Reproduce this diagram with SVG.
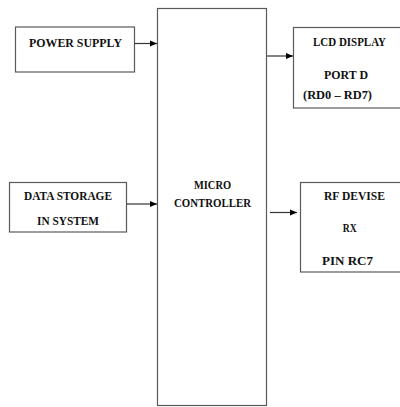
<svg xmlns="http://www.w3.org/2000/svg" width="400" height="407" viewBox="0 0 400 407">
<style>
.box{fill:#fff;stroke:#5a5a5a;stroke-width:1.2}
.t{font-family:"Liberation Serif","Times New Roman",serif;font-weight:bold;font-size:13px;fill:#111;text-anchor:middle}
.c{stroke:#333;stroke-width:1.2;fill:none}
</style>
<defs>
<marker id="ah" markerWidth="8" markerHeight="8" refX="7" refY="4" orient="auto" markerUnits="userSpaceOnUse">
<path d="M0,1 L7,4 L0,7 Z" fill="#000"/>
</marker>
</defs>
<rect width="400" height="407" fill="#fff"/>
<g id="power-supply">
<rect class="box" x="15.5" y="27" width="119" height="45"/>
<text class="t" x="75.5" y="46.5" textLength="93" lengthAdjust="spacingAndGlyphs">POWER SUPPLY</text>
</g>
<g id="data-storage">
<rect class="box" x="9.5" y="182.5" width="117" height="49.5"/>
<text class="t" x="68" y="200" textLength="88" lengthAdjust="spacingAndGlyphs">DATA STORAGE</text>
<text class="t" x="68" y="225" textLength="62" lengthAdjust="spacingAndGlyphs">IN SYSTEM</text>
</g>
<g id="micro-controller">
<rect class="box" x="157.5" y="8.5" width="109" height="397"/>
<text class="t" x="212.5" y="189" textLength="37" lengthAdjust="spacingAndGlyphs">MICRO</text>
<text class="t" x="212.5" y="207" textLength="77" lengthAdjust="spacingAndGlyphs">CONTROLLER</text>
</g>
<g id="lcd-display">
<rect class="box" x="293.5" y="27.5" width="110" height="80.5"/>
<text class="t" x="349.5" y="46" textLength="73" lengthAdjust="spacingAndGlyphs">LCD DISPLAY</text>
<text class="t" x="346" y="79" textLength="44" lengthAdjust="spacingAndGlyphs">PORT D</text>
<text class="t" x="337.5" y="99" textLength="69" lengthAdjust="spacingAndGlyphs">(RD0 – RD7)</text>
</g>
<g id="rf-device">
<rect class="box" x="300.5" y="182.5" width="103" height="89.5"/>
<text class="t" x="354.5" y="200" textLength="61" lengthAdjust="spacingAndGlyphs">RF DEVISE</text>
<text class="t" x="349.7" y="231.7" textLength="14" lengthAdjust="spacingAndGlyphs">RX</text>
<text class="t" x="347.5" y="265" textLength="51" lengthAdjust="spacingAndGlyphs">PIN RC7</text>
</g>
<g id="connectors">
<line class="c" x1="134.5" y1="43.5" x2="157" y2="43.5" marker-end="url(#ah)"/>
<line class="c" x1="126.5" y1="204" x2="157" y2="204" marker-end="url(#ah)"/>
<line class="c" x1="267" y1="56" x2="293" y2="56" marker-end="url(#ah)"/>
<line class="c" x1="270" y1="212.5" x2="297" y2="212.5" marker-end="url(#ah)"/>
</g>
</svg>
